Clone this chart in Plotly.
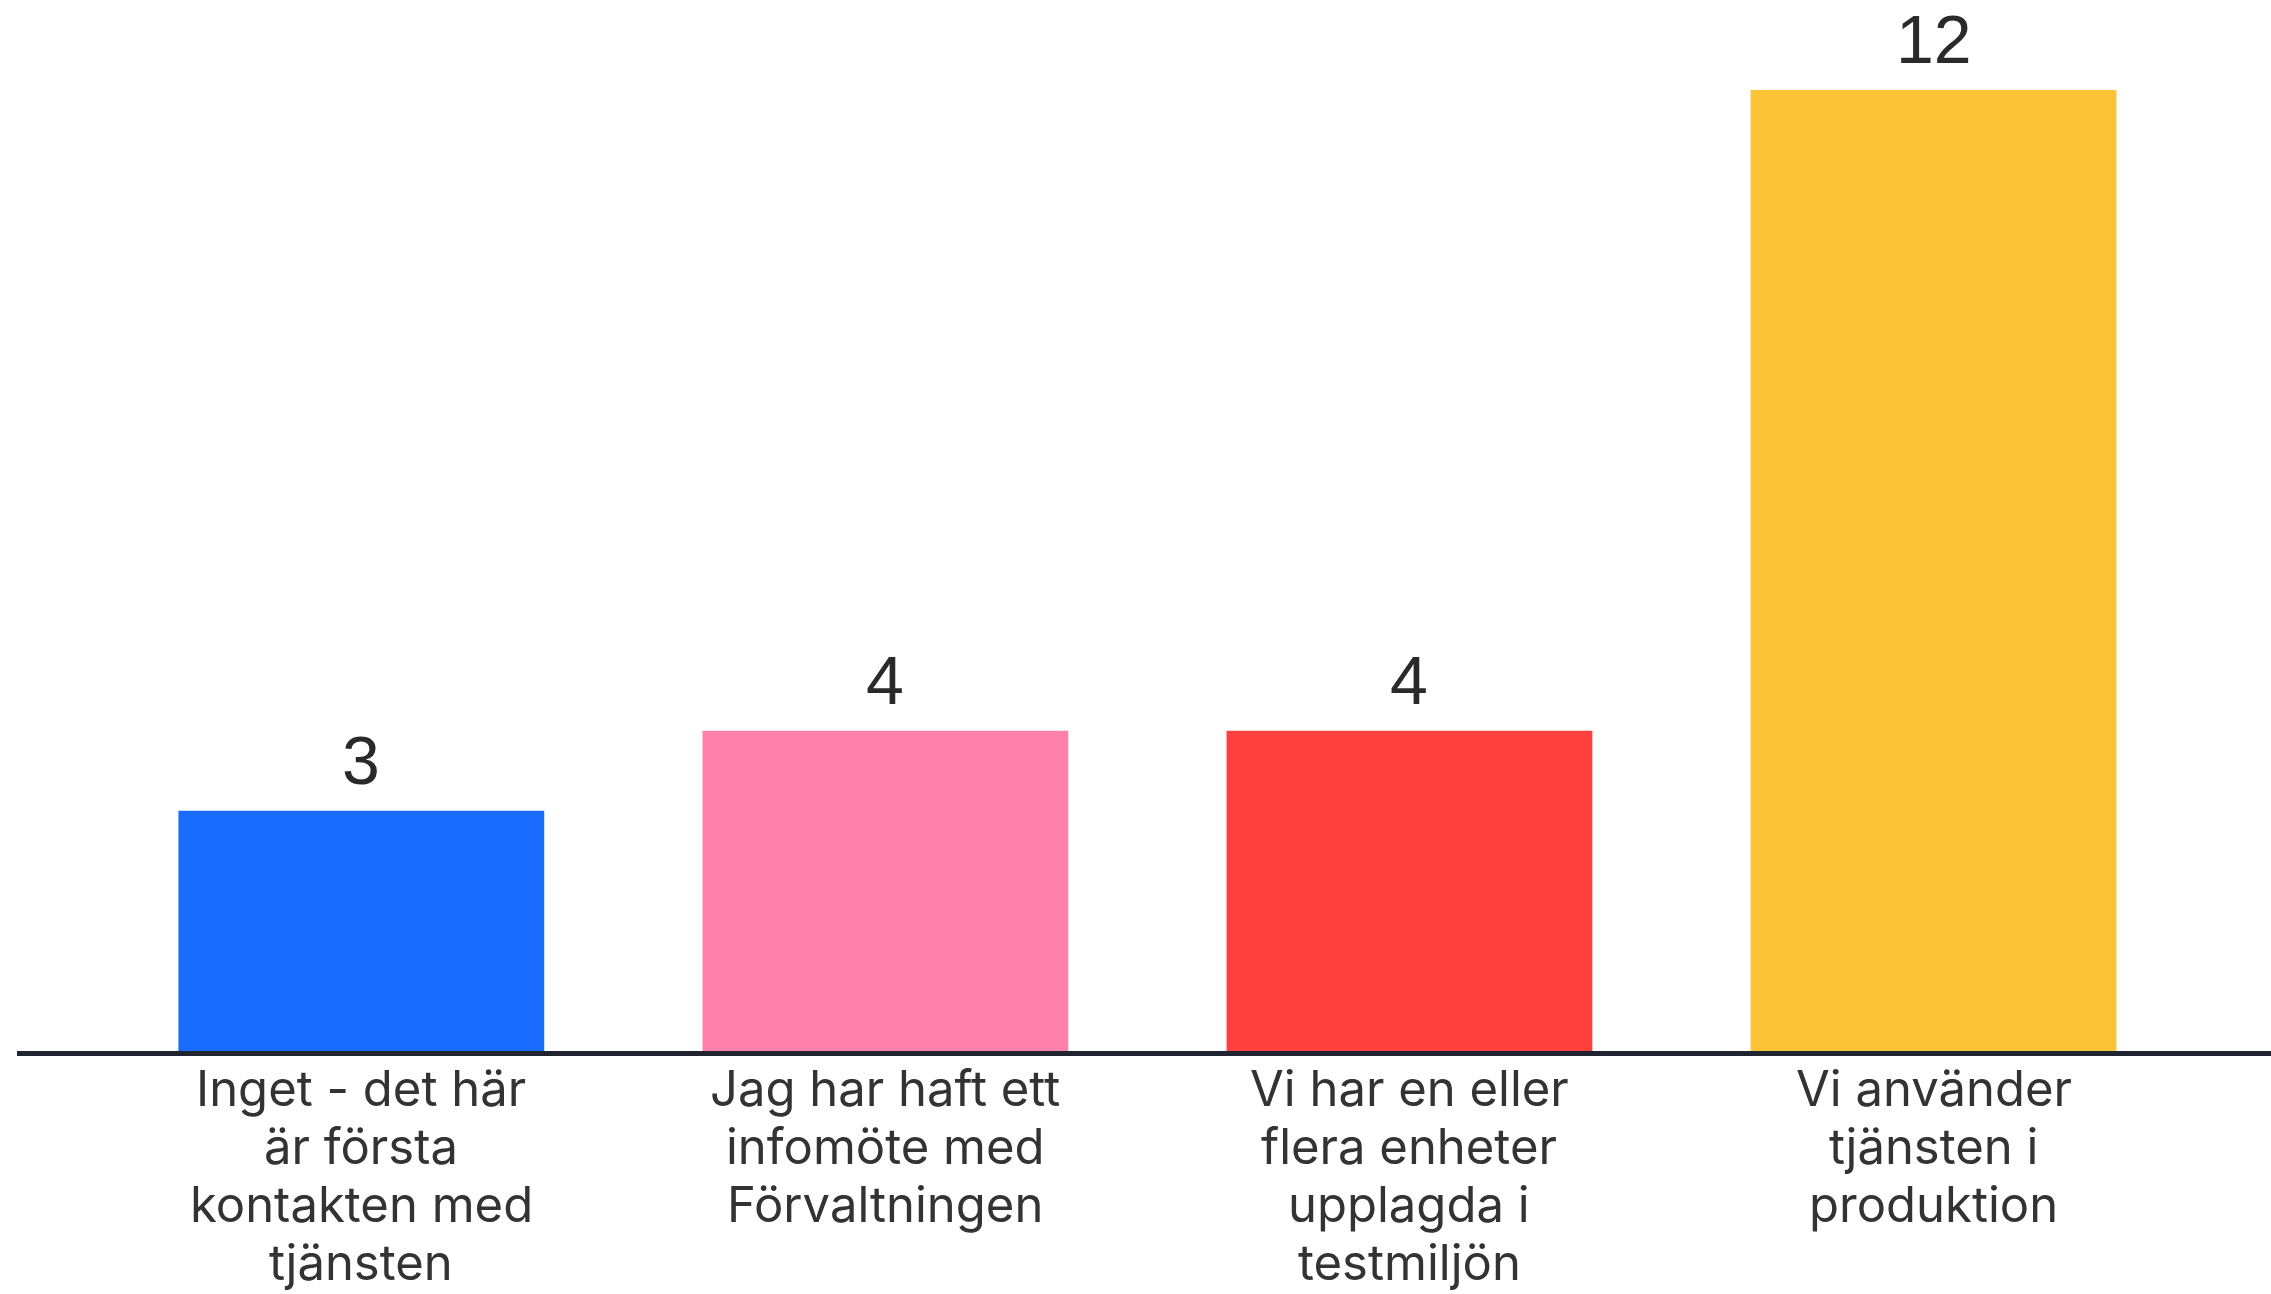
import plotly.graph_objects as go

categories = ["Inget - det här är första kontakten med tjänsten",
              "Jag har haft ett infomöte med Förvaltningen",
              "Vi har en eller flera enheter upplagda i testmiljön",
              "Vi använder tjänsten i produktion"]
label_lines = [["Inget - det här", "är första", "kontakten med", "tjänsten"],
               ["Jag har haft ett", "infomöte med", "Förvaltningen"],
               ["Vi har en eller", "flera enheter", "upplagda i", "testmiljön"],
               ["Vi använder", "tjänsten i", "produktion"]]
values = [3, 4, 4, 12]
colors = ["#196CFF", "#FF80AB", "#FF403D", "#FDC336"]

W, H = 2271, 1294
fig = go.Figure(go.Bar(x=categories, y=values, marker=dict(color=colors, line=dict(width=0)),
                       hoverinfo="skip"))

ann = []
for c, v in zip(categories, values):
    ann.append(dict(x=c, y=v, xref="x", yref="y", text=str(v), showarrow=False,
                    yanchor="bottom", yshift=11,
                    font=dict(family="Liberation Sans, Arial, sans-serif", size=68, color="#2a2a2a")))
for c, lines in zip(categories, label_lines):
    for i, line in enumerate(lines):
        ann.append(dict(x=c, y=0, xref="x", yref="paper", text=line, showarrow=False,
                        yanchor="top", yshift=-6 - i * 58,
                        font=dict(family="Inter, Lato, sans-serif", size=49, color="#333333")))

fig.update_layout(
    width=W, height=H,
    margin=dict(l=17, r=0, t=0, b=243, pad=0),
    paper_bgcolor="white", plot_bgcolor="white",
    bargap=0.302, showlegend=False,
    xaxis=dict(type="category", range=[-0.657, 3.644], showticklabels=False, showgrid=False,
               zeroline=False, showline=True, linecolor="#1f2430", linewidth=5, ticks=""),
    yaxis=dict(range=[0, 13.124], visible=False, showgrid=False, zeroline=False),
    annotations=ann,
)

fig.write_html("out.html", config={"displayModeBar": False},
               post_script="document.body.style.margin='0';document.body.style.overflow='hidden';")
